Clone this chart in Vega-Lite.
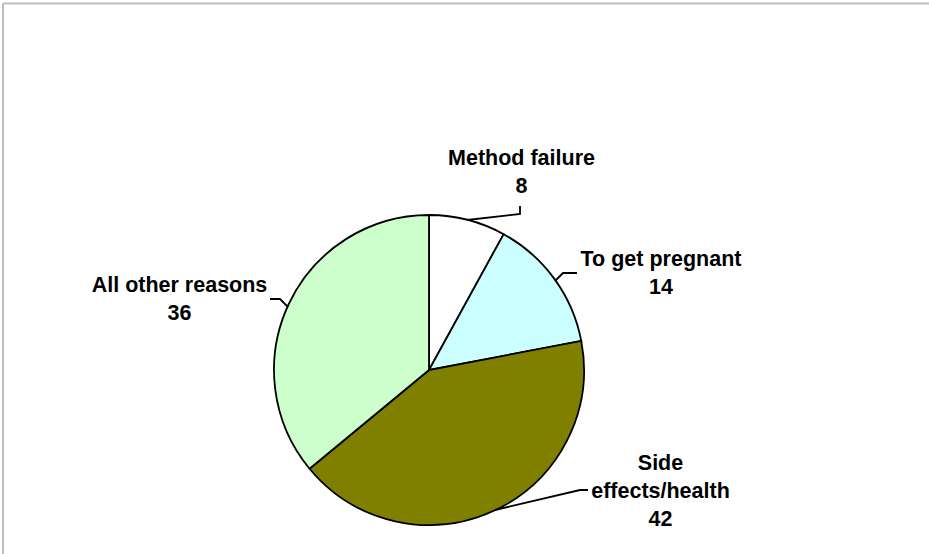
{
  "$schema": "https://vega.github.io/schema/vega-lite/v6.json",
  "width": 929,
  "height": 554,
  "autosize": {"type": "none"},
  "padding": 0,
  "background": "white",
  "config": {"view": {"stroke": null}},
  "datasets": {
    "slices": [
      {"reason": "Method failure", "value": 8, "o": 1},
      {"reason": "To get pregnant", "value": 14, "o": 2},
      {"reason": "Side effects/health", "value": 42, "o": 3},
      {"reason": "All other reasons", "value": 36, "o": 4}
    ],
    "labels": [
      {"label": "Method failure\n8", "x": 92.5, "y": 211},
      {"label": "To get pregnant\n14", "x": 232, "y": 110},
      {"label": "Side\neffects/health\n42", "x": 231.5, "y": -94},
      {"label": "All other reasons\n36", "x": -249.5, "y": 84}
    ],
    "leaders": [
      {"id": "m", "i": 1, "x": 38, "y": 150},
      {"id": "m", "i": 2, "x": 91, "y": 156},
      {"id": "m", "i": 3, "x": 91, "y": 164},
      {"id": "p", "i": 1, "x": 126, "y": 89},
      {"id": "p", "i": 2, "x": 134, "y": 97},
      {"id": "p", "i": 3, "x": 148, "y": 97},
      {"id": "s", "i": 1, "x": 66, "y": -140},
      {"id": "s", "i": 2, "x": 151, "y": -120},
      {"id": "s", "i": 3, "x": 159, "y": -120},
      {"id": "a", "i": 1, "x": -141, "y": 63},
      {"id": "a", "i": 2, "x": -149, "y": 71},
      {"id": "a", "i": 3, "x": -159, "y": 71}
    ],
    "frame": [
      {"x": -426, "y": 366.5, "x2": 500, "y2": 366.5},
      {"x": -426, "y": 366.5, "x2": -426, "y2": -184}
    ]
  },
  "layer": [
    {
      "data": {"name": "frame"},
      "mark": {"type": "rule", "stroke": "#bdbdbd", "strokeWidth": 2},
      "encoding": {
        "x": {"field": "x", "type": "quantitative", "scale": {"domain": [-429, 500], "nice": false, "zero": false}, "axis": null},
        "y": {"field": "y", "type": "quantitative", "scale": {"domain": [-184, 370], "nice": false, "zero": false}, "axis": null},
        "x2": {"field": "x2"},
        "y2": {"field": "y2"}
      }
    },
    {
      "data": {"name": "slices"},
      "mark": {"type": "arc", "outerRadius": 155, "stroke": "black", "strokeWidth": 1.8},
      "encoding": {
        "x": {"datum": 0, "type": "quantitative"},
        "y": {"datum": 0, "type": "quantitative"},
        "theta": {"field": "value", "type": "quantitative", "stack": true},
        "order": {"field": "o", "type": "quantitative"},
        "color": {
          "field": "reason", "type": "nominal",
          "scale": {"domain": ["Method failure", "To get pregnant", "Side effects/health", "All other reasons"], "range": ["#FFFFFF", "#CCFFFF", "#808000", "#CCFFCC"]},
          "legend": null
        }
      }
    },
    {
      "data": {"name": "leaders"},
      "mark": {"type": "line", "stroke": "black", "strokeWidth": 1.8},
      "encoding": {
        "x": {"field": "x", "type": "quantitative"},
        "y": {"field": "y", "type": "quantitative"},
        "detail": {"field": "id"},
        "order": {"field": "i", "type": "quantitative"}
      }
    },
    {
      "data": {"name": "labels"},
      "mark": {"type": "text", "font": "Liberation Sans", "fontWeight": "bold", "fontSize": 21.5, "lineBreak": "\n", "lineHeight": 28, "align": "center", "baseline": "middle", "color": "black"},
      "encoding": {
        "x": {"field": "x", "type": "quantitative"},
        "y": {"field": "y", "type": "quantitative"},
        "text": {"field": "label"}
      }
    }
  ]
}
